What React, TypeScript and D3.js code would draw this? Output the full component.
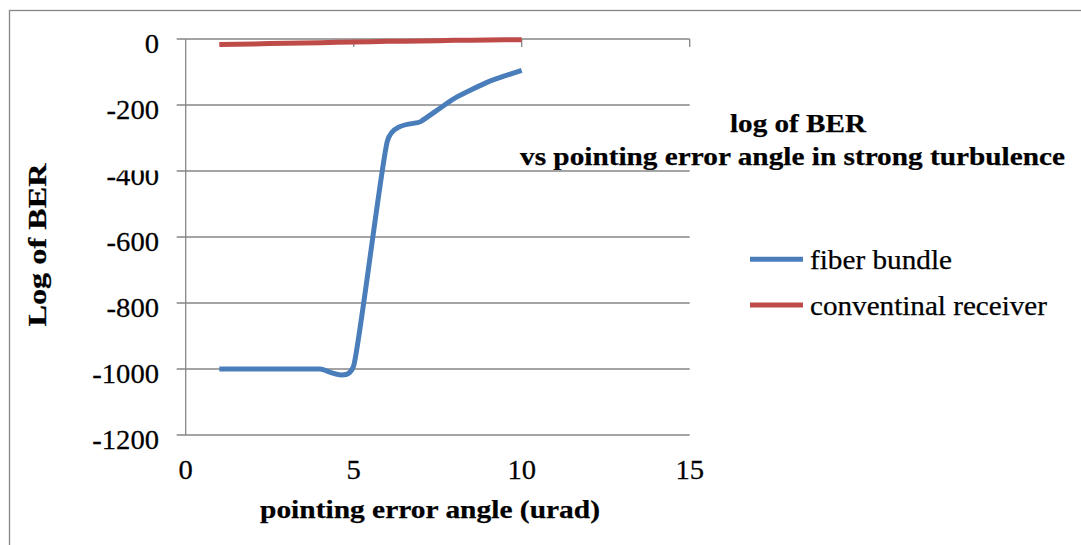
import React, { useRef, useEffect } from "react";
import * as d3 from "d3";

// pointing error angle (urad)
const angles = [1, 2, 3, 4, 5, 6, 7, 8, 9, 10];
// log of BER per series
const fiberBundle = [-1000, -1000, -1000, -1000, -990, -310, -250, -180, -130, -95];
const conventional = [-17, -15, -13, -11, -9, -7, -6, -4, -3, -2];

const xTicks = [0, 5, 10, 15];
const yTicks = [0, -200, -400, -600, -800, -1000, -1200];
const seriesNames = ["fiber bundle", "conventinal receiver"];
const seriesColors = ["#4A7EBB", "#BE4B48"];

const FONT = "Liberation Serif";
const GRID = "#868686";

function App() {
  const ref = useRef<SVGSVGElement | null>(null);

  useEffect(() => {
    const svg = d3.select(ref.current);
    svg.selectAll("*").remove();

    const x = d3.scaleLinear().domain([0, 15]).range([185.7, 689.7]);
    const y = d3.scaleLinear().domain([-1200, 0]).range([435, 39]);

    const defs = svg.append("defs");
    defs.append("clipPath").attr("id", "titleClip")
      .append("rect").attr("x", 0).attr("y", 0).attr("width", 1081).attr("height", 170);
    defs.append("clipPath").attr("id", "tickClip")
      .append("rect").attr("x", 0).attr("y", 170.5).attr("width", 1081).attr("height", 400);

    // outer frame (runs off the picture on the right and bottom)
    svg.append("rect")
      .attr("x", 9.5).attr("y", 10.5).attr("width", 1200).attr("height", 1000)
      .attr("fill", "none").attr("stroke", GRID).attr("stroke-width", 1.3);

    // stretched text helper (the picture is a bit wider than tall)
    const text = (
      g: any, s: string, tx: number, ty: number, size: number,
      opts: { anchor?: string; bold?: boolean; width?: number; sx?: number; rotate?: number } = {}
    ) => {
      const t = g.append("text")
        .attr("font-family", FONT)
        .attr("font-size", size)
        .attr("font-weight", opts.bold ? "bold" : "normal")
        .attr("text-anchor", opts.anchor || "start")
        .attr("fill", "#000")
        .attr("stroke", "#000")
        .attr("stroke-width", 0.25)
        .text(s);
      if (opts.width) {
        t.attr("textLength", opts.width).attr("lengthAdjust", "spacingAndGlyphs");
      }
      const sx = opts.sx || 1;
      t.attr("transform", `translate(${tx},${ty})${opts.rotate ? ` rotate(${opts.rotate})` : ""} scale(${sx},1)`);
      return t;
    };

    // gridlines with left tick marks
    svg.append("g").selectAll("line").data(yTicks).enter().append("line")
      .attr("x1", x(0) - 9).attr("x2", x(15))
      .attr("y1", (d) => y(d)).attr("y2", (d) => y(d))
      .attr("stroke", GRID).attr("stroke-width", 1.3);

    // vertical axis
    svg.append("line")
      .attr("x1", x(0)).attr("x2", x(0)).attr("y1", y(0)).attr("y2", y(-1200))
      .attr("stroke", GRID).attr("stroke-width", 1.3);

    // horizontal axis sits at 0 with ticks pointing down
    svg.append("g").selectAll("line").data(xTicks.slice(1)).enter().append("line")
      .attr("x1", (d) => x(d)).attr("x2", (d) => x(d))
      .attr("y1", y(0)).attr("y2", y(0) + 8)
      .attr("stroke", GRID).attr("stroke-width", 1.3);

    // y tick labels (the -400 label is clipped at its top in the original)
    const yl = svg.append("g");
    yTicks.forEach((v) => {
      const holder = v === -400 ? yl.append("g").attr("clip-path", "url(#tickClip)") : yl;
      text(holder, String(v), 159, y(v) + 14, 27, { anchor: "end", sx: 1.06 });
    });

    // x tick labels
    const xl = svg.append("g");
    xTicks.forEach((v) => {
      text(xl, String(v), x(v), 479, 27, { anchor: "middle", sx: 1.06 });
    });

    // series
    const line = d3.line<number>()
      .x((_, i) => x(angles[i]))
      .y((d) => y(d))
      .curve(d3.curveCardinal.tension(0.5));

    [fiberBundle, conventional].forEach((vals, i) => {
      svg.append("path")
        .attr("d", line(vals))
        .attr("fill", "none")
        .attr("stroke", seriesColors[i])
        .attr("stroke-width", 5)
        .attr("stroke-linejoin", "round");
    });

    // axis titles
    text(svg, "pointing error angle (urad)", 430, 518, 25, { anchor: "middle", bold: true, width: 340 });
    text(svg, "Log of BER", 46, 245, 26, { anchor: "middle", bold: true, width: 163, rotate: -90 });

    // chart title
    const tg = svg.append("g").attr("clip-path", "url(#titleClip)");
    text(tg, "log of BER", 798, 132, 26, { anchor: "middle", bold: true, width: 136 });
    text(tg, "vs pointing error angle in strong turbulence", 792.5, 165, 25, { anchor: "middle", bold: true, width: 545 });

    // legend
    const lg = svg.append("g");
    const legendY = [259.3, 305];
    const legendW = [142, 237];
    seriesNames.forEach((name, i) => {
      lg.append("line")
        .attr("x1", 750).attr("x2", 803)
        .attr("y1", legendY[i]).attr("y2", legendY[i])
        .attr("stroke", seriesColors[i]).attr("stroke-width", 5);
      text(lg, name, 810, legendY[i] + 10, 27, { width: legendW[i] });
    });
  }, []);

  return (
    <div style={{ position: "fixed", left: 0, top: 0, background: "#fff" }}>
      <svg ref={ref} width={1081} height={545} style={{ display: "block" }} />
    </div>
  );
}

export default App;
